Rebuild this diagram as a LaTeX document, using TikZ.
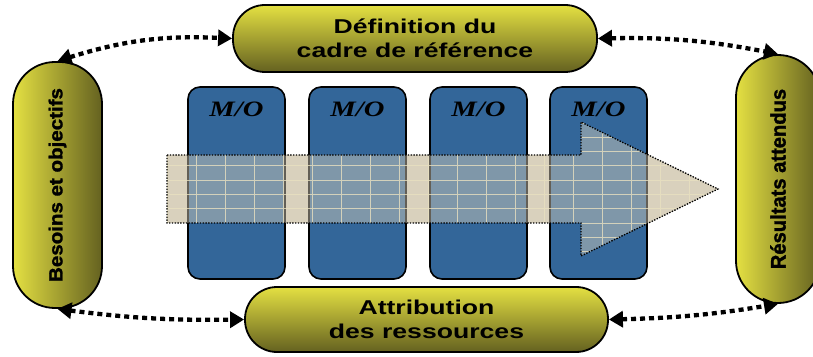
\documentclass[tikz,border=0pt]{standalone}
\usepackage{fontspec}
\usepackage{graphicx}
\usepackage{tikz}
\usetikzlibrary{calc,arrows.meta,positioning}
\newfontfamily\pillfont[FakeStretch=1.33]{Liberation Sans}
\newfontfamily\leftfont[FakeStretch=1.08,FakeBold=1.5]{Liberation Sans}
\newfontfamily\rightfont[FakeStretch=0.96,FakeBold=1.5]{Liberation Sans}
\newfontfamily\mofont[FakeStretch=1.3]{Liberation Serif}
\definecolor{pillLight}{RGB}{228,224,66}
\definecolor{pillDark}{RGB}{100,97,32}
\definecolor{moBlue}{RGB}{51,102,153}
\definecolor{flowBeige}{RGB}{217,209,189}
\definecolor{flowGrid}{RGB}{232,224,192}

\tikzset{
    hpill/.style={draw=black, line width=1.8pt, rounded corners=32pt,
        top color=pillLight, bottom color=pillDark, inner sep=0pt,
        align=center, font=\pillfont\bfseries\fontsize{20}{24.5}\selectfont},
    vpill/.style={draw=black, line width=1.8pt, rounded corners=42pt,
        left color=pillLight, right color=pillDark, inner sep=0pt},
    mobox/.style={draw=black, line width=1.6pt, rounded corners=12pt,
        fill=moBlue, minimum width=97pt, minimum height=192pt, inner sep=0pt},
    molabel/.style={anchor=base, inner sep=0pt,
        font=\mofont\bfseries\itshape\fontsize{22}{22}\selectfont},
    linkarrow/.style={line width=4.3pt, dash pattern=on 5pt off 4pt,
        {Triangle[length=14pt,width=16pt]}-{Triangle[length=14pt,width=16pt]}},
    flowedge/.style={draw=black, line width=1.3pt, dash pattern=on 1.4pt off 1.4pt}
}

\begin{document}
\begin{tikzpicture}[x=1pt,y=1pt]
    \useasboundingbox (0,0) rectangle (813,356);

    % =========================
    % outline of the flow arrow
    % =========================
    \coordinate (f1) at (167,201);
    \coordinate (f2) at (581,201);
    \coordinate (f3) at (581,234);
    \coordinate (f4) at (718,167);
    \coordinate (f5) at (581,100);
    \coordinate (f6) at (581,133);
    \coordinate (f7) at (167,133);

    % arrow body under the boxes
    \fill[flowBeige] (f1) -- (f2) -- (f3) -- (f4) -- (f5) -- (f6) -- (f7) -- cycle;

    % =========================
    % M/O boxes
    % =========================
    \foreach \i/\x in {1/236.5, 2/357.5, 3/478.5, 4/598.5}{
        \node[mobox] (bx\i) at (\x,173) {};
        \node[molabel] (mo\i) at ([yshift=-30pt]bx\i.north) {M/O};
    }

    % arrow seen through, grid and dotted edge
    \fill[flowBeige, fill opacity=0.46] (f1) -- (f2) -- (f3) -- (f4) -- (f5) -- (f6) -- (f7) -- cycle;
    \begin{scope}
        \clip (f1) -- (f2) -- (f3) -- (f4) -- (f5) -- (f6) -- (f7) -- cycle;
        \draw[flowGrid, line width=0.5pt, opacity=0.8, shift={(225,190.3)}]
            (-87,-100) grid[xstep=29pt, ystep=14.3pt] (500,50);
    \end{scope}
    \draw[flowedge] (f1) -- (f2) -- (f3) -- (f4) -- (f5) -- (f6) -- (f7) -- cycle;

    % =========================
    % the four pills
    % =========================
    \node[hpill, minimum width=364pt, minimum height=67pt] (cadre) at (415,317.5)
        {Définition du\\cadre de référence};
    \node[hpill, minimum width=363pt, minimum height=65pt] (ressources) at (426.5,36.5)
        {Attribution\\des ressources};
    \node[vpill, minimum width=89pt, minimum height=246pt] (besoins) at (57.5,171)
        {\rotatebox{90}{\leftfont\bfseries\fontsize{19}{19}\selectfont Besoins et objectifs}};
    \node[vpill, minimum width=84pt, minimum height=248pt] (resultats) at (778,177)
        {\rotatebox{90}{\rightfont\bfseries\fontsize{21}{21}\selectfont Résultats attendus}};

    % =========================
    % dotted links
    % =========================
    \draw[linkarrow] (besoins.north) to[bend left=10] (cadre.west);
    \draw[linkarrow] (cadre.east) to[bend left=6] (resultats.north);
    \draw[linkarrow] (besoins.south) to[bend right=4] (ressources.west);
    \draw[linkarrow] (ressources.east) to[bend right=4] (resultats.south);

\end{tikzpicture}
\end{document}
